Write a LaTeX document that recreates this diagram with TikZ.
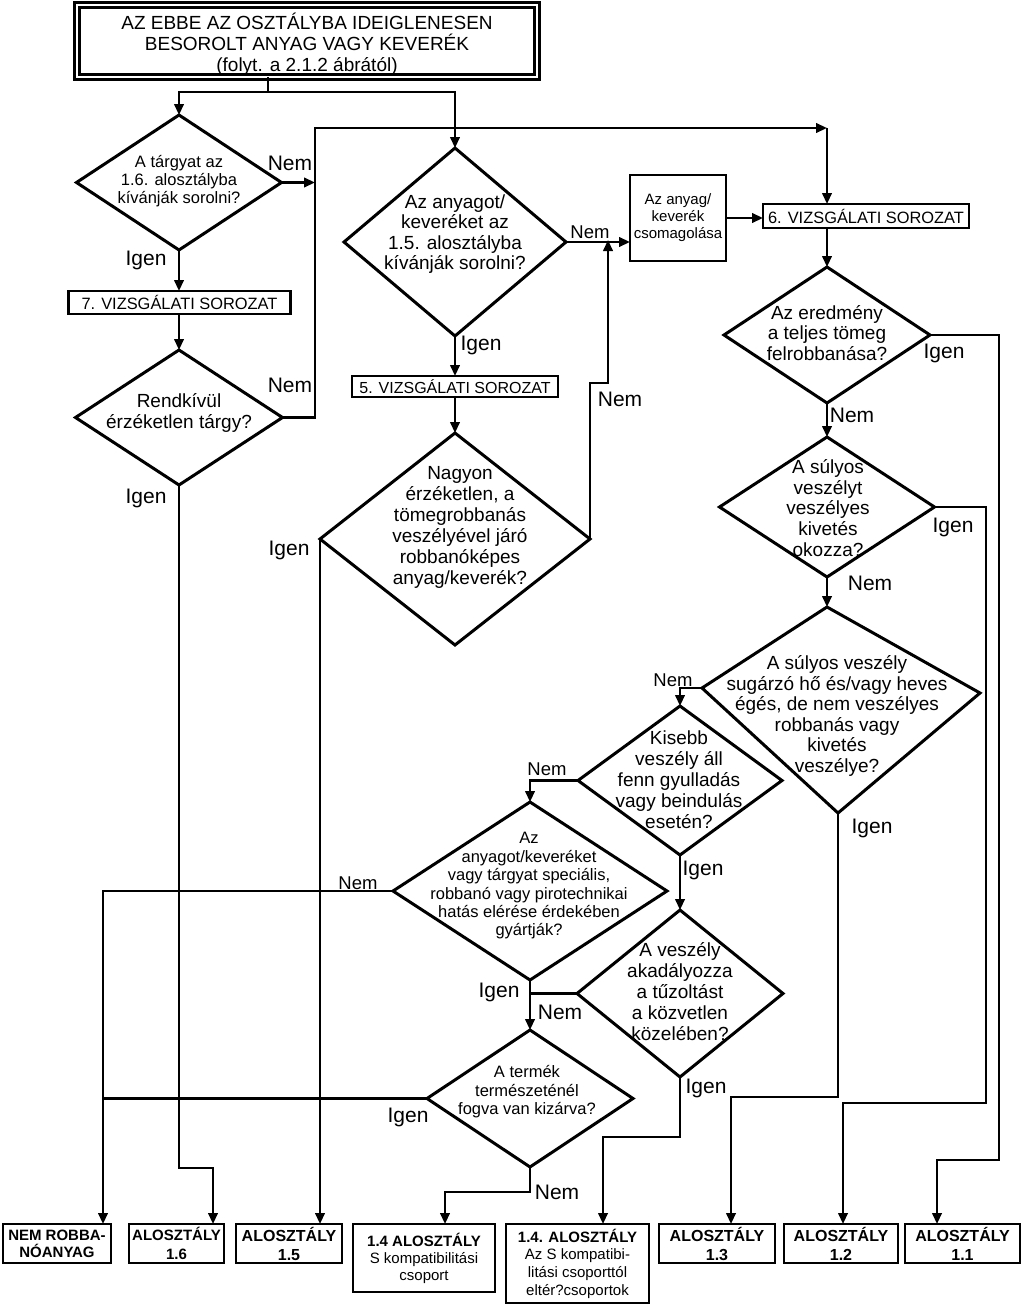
\documentclass[tikz,border=0pt]{standalone}
\usepackage{fontspec}
\setmainfont{Liberation Sans}
\usetikzlibrary{arrows.meta,shapes.geometric}
\newcommand{\myfs}[2]{\fontsize{#1}{#2}\selectfont}
\begin{document}
\begin{tikzpicture}[x=1pt,y=-1pt,
  dia/.style={diamond,draw,line width=3pt,inner sep=0pt,outer sep=0pt},
  dline/.style={draw,line width=3pt,line join=miter},
  dtext/.style={align=center,inner sep=0pt,font=\myfs{19}{20.6}},
  stext/.style={align=center,inner sep=0pt,font=\myfs{16.5}{18.4}},
  box/.style={draw,line width=2.8pt,inner sep=0pt,outer sep=0pt,align=center},
  btext/.style={font=\myfs{16}{19}\bfseries},
  lab/.style={inner sep=0pt,font=\myfs{21}{21}},
  slab/.style={inner sep=0pt,font=\myfs{18.5}{18.5}},
  conn/.style={line width=2.3pt},
  arr/.style={line width=2.3pt,-{Triangle[length=11pt,width=9.5pt]}},
]
\fill[white] (0,0) rectangle (1023,1306);
\useasboundingbox (0,0) rectangle (1023,1306);

% title
\node[draw,line width=2.3pt,double,double distance=2.8pt,minimum width=460pt,minimum height=72pt,inner sep=0pt,outer sep=0pt] (title) at (307,41) {};
\node[dtext,font=\myfs{19}{21}] (titletxt) at (307,44) {AZ EBBE AZ OSZTÁLYBA IDEIGLENESEN\\BESOROLT ANYAG VAGY KEVERÉK\\(folyt. a 2.1.2 ábrától)};

% diamonds
\node[dia,minimum width=205pt,minimum height=135pt] (d1) at (179,182.5) {};
\node[stext,font=\myfs{16.5}{18}] (d1t) at (179,181) {A tárgyat az\\1.6. alosztályba\\kívánják sorolni?};

\node[dia,minimum width=207pt,minimum height=135pt] (d2) at (179,417.5) {};
\node[dtext,font=\myfs{19}{21}] (d2t) at (179,413) {Rendkívül\\érzéketlen tárgy?};

\node[dia,minimum width=222pt,minimum height=188pt] (d3) at (455,242) {};
\node[dtext] (d3t) at (455,234) {Az anyagot/\\keveréket az\\1.5. alosztályba\\kívánják sorolni?};

\node[dia,minimum width=270pt,minimum height=212pt] (d12) at (455,539) {};
\node[dtext,font=\myfs{19}{21}] (d12t) at (460,527) {Nagyon\\érzéketlen, a\\tömegrobbanás\\veszélyével járó\\robbanóképes\\anyag/keverék?};

\node[dia,minimum width=206pt,minimum height=136pt] (d4) at (827,335) {};
\node[dtext] (d4t) at (827,333) {Az eredmény\\a teljes tömeg\\felrobbanása?};

\node[dia,minimum width=215pt,minimum height=140pt] (d5) at (827,507) {};
\node[dtext] (d5t) at (828,508) {A súlyos\\veszélyt\\veszélyes\\kivetés\\okozza?};

\coordinate (d6n) at (827,607);
\coordinate (d6e) at (980,693);
\coordinate (d6s) at (838,813);
\coordinate (d6w) at (702,688);
\draw[dline] (d6n) -- (d6e) -- (d6s) -- (d6w) -- cycle;
\node[dtext] (d6t) at (837,716) {A súlyos veszély\\sugárzó hő és/vagy heves\\égés, de nem veszélyes\\robbanás vagy\\kivetés\\veszélye?};

\node[dia,minimum width=204pt,minimum height=149pt] (d7) at (680,780.5) {};
\node[dtext,font=\myfs{19}{21}] (d7t) at (679,780) {Kisebb\\veszély áll\\fenn gyulladás\\vagy beindulás\\esetén?};

\node[dia,minimum width=274pt,minimum height=178pt] (d8) at (530,891) {};
\node[stext] (d8t) at (529,886) {Az\\anyagot/keveréket\\vagy tárgyat speciális,\\robbanó vagy pirotechnikai\\hatás elérése érdekében\\gyártják?};

\node[dia,minimum width=206pt,minimum height=167pt] (d9) at (680,993.5) {};
\node[dtext,font=\myfs{19}{21}] (d9t) at (680,992) {A veszély\\akadályozza\\a tűzoltást\\a közvetlen\\közelében?};

\node[dia,minimum width=206pt,minimum height=137pt] (d10) at (530,1098.5) {};
\node[stext] (d10t) at (527,1092) {A termék\\természeténél\\fogva van kizárva?};

% rectangular boxes
\node[box,minimum width=222pt,minimum height=23pt,font=\myfs{16.4}{18}] (box7) at (179.5,302.5) {7. VIZSGÁLATI SOROZAT};
\node[box,minimum width=206pt,minimum height=21pt,font=\myfs{16}{18}] (box5) at (455,386.5) {5. VIZSGÁLATI SOROZAT};
\node[box,minimum width=206pt,minimum height=24pt,font=\myfs{16.4}{18}] (box6) at (866,216) {6. VIZSGÁLATI SOROZAT};
\node[box,minimum width=96pt,minimum height=86pt,font=\myfs{15}{17}] (pack) at (678,218) {Az anyag/\\keverék\\csomagolása};

% bottom boxes
\node[box,minimum width=108pt,minimum height=39pt,font=\myfs{15}{17}\bfseries] (nemrob) at (57,1243.5) {NEM ROBBA-\\NÓANYAG};
\node[box,minimum width=95pt,minimum height=39pt,font=\myfs{15}{19}\bfseries] (a16) at (176.5,1243.5) {ALOSZTÁLY\\1.6};
\node[box,minimum width=106pt,minimum height=39pt,btext] (a15) at (289,1243.5) {ALOSZTÁLY\\1.5};
\node[box,minimum width=142pt,minimum height=68pt,font=\myfs{15}{17}] (a14s) at (424,1258) {\textbf{1.4 ALOSZTÁLY}\\S kompatibilitási\\csoport};
\node[box,minimum width=143pt,minimum height=79pt,font=\myfs{15}{17.6}] (a14o) at (577.5,1263.5) {\textbf{1.4. ALOSZTÁLY}\\Az S kompatibi-\\litási csoporttól\\eltér?csoportok};
\node[box,minimum width=116pt,minimum height=39pt,btext] (a13) at (717,1243.5) {ALOSZTÁLY\\1.3};
\node[box,minimum width=114pt,minimum height=39pt,btext] (a12) at (841,1243.5) {ALOSZTÁLY\\1.2};
\node[box,minimum width=115pt,minimum height=39pt,btext] (a11) at (962.5,1243.5) {ALOSZTÁLY\\1.1};

% helper coordinates
\coordinate (tj) at (268,92);
\coordinate (lx) at (315,128);
\coordinate (rc) at (827,128);
\coordinate (j16) at (213,1168);
\coordinate (n12a) at (608,383);
\coordinate (c11a) at (999,1160);
\coordinate (x11) at (937,0);
\coordinate (c12a) at (986,1103);
\coordinate (x12) at (843,0);
\coordinate (c13a) at (838,1097);
\coordinate (x13) at (731,0);
\coordinate (xn) at (103,0);
\coordinate (c14s) at (445,1192);
\coordinate (c14o) at (603,1137);

% connectors
\draw[conn] (title.south -| tj) -- (tj);
\draw[arr] (tj) -| (d1.north);
\draw[arr] (tj) -| (d3.north);
\draw[arr] (d1.east) -- (d1.east -| lx);
\draw[arr] (d2.east) -| (lx) -- (rc);
\draw[arr] (rc) -- (rc |- box6.north);
\draw[arr] (d1.south) -- (d1.south |- box7.north);
\draw[arr] (box7.south -| d2.north) -- (d2.north);
\draw[arr] (d2.south) |- (j16) -- (j16 |- a16.north);
\draw[arr] (d3.south) -- (box5.north);
\draw[arr] (box5.south) -- (d12.north);
\draw[arr] (d3.east) -- (d3.east -| pack.west);
\draw[arr] (d12.east) |- (n12a) -- ([yshift=2pt]n12a |- d3.east);
\draw[arr] (pack.east) -- (pack.east -| box6.west);
\draw[arr] (box6.south -| d4.north) -- (d4.north);
\draw[arr] (d4.south) -- (d5.north);
\draw[arr] (d5.south) -- (d6n);
\draw[arr] (d4.east) -| (c11a) -| (x11 |- a11.north);
\draw[arr] (d5.east) -| (c12a) -| (x12 |- a12.north);
\draw[arr] (d6s) -- (c13a) -| (x13 |- a13.north);
\draw[arr] (d6w) -| (d7.north);
\draw[arr] (d7.west) -| (d8.north);
\draw[arr] (d7.south) -- (d9.north);
\draw[arr] (d8.west) -| (xn |- nemrob.north);
\draw[arr] (d8.south) -- (d10.north);
\draw[conn] (d9.west) -- (d9.west -| d8.south);
\draw[conn] (d10.west) -- (d10.west -| xn);
\draw[arr] (d10.south) |- (c14s) -- (c14s |- a14s.north);
\draw[arr] (d9.south) |- (c14o) -- (c14o |- a14o.north);
\draw[arr] (d12.west) -- (d12.west |- a15.north);

% labels
\node[lab] (l1n) at (290,163) {Nem};
\node[lab] (l1i) at (146,260) {Igen};
\node[lab] (l2n) at (290,385) {Nem};
\node[lab] (l2i) at (146,498) {Igen};
\node[slab] (l3n) at (590,232) {Nem};
\node[lab] (l3i) at (481,345) {Igen};
\node[lab] (l12n) at (620,399) {Nem};
\node[lab] (l12i) at (289,550) {Igen};
\node[lab] (l4i) at (944,353) {Igen};
\node[lab] (l4n) at (852,415) {Nem};
\node[lab] (l5i) at (953,527) {Igen};
\node[lab] (l5n) at (870,583) {Nem};
\node[slab] (l6n) at (673,680) {Nem};
\node[lab] (l6i) at (872,828) {Igen};
\node[slab] (l7n) at (547,769) {Nem};
\node[lab] (l7i) at (703,870) {Igen};
\node[slab] (l8n) at (358,883) {Nem};
\node[lab] (l8i) at (499,992) {Igen};
\node[lab] (l9n) at (560,1012) {Nem};
\node[lab] (l9i) at (706,1088) {Igen};
\node[lab] (l10i) at (408,1117) {Igen};
\node[lab] (l10n) at (557,1192) {Nem};
\end{tikzpicture}
\end{document}
